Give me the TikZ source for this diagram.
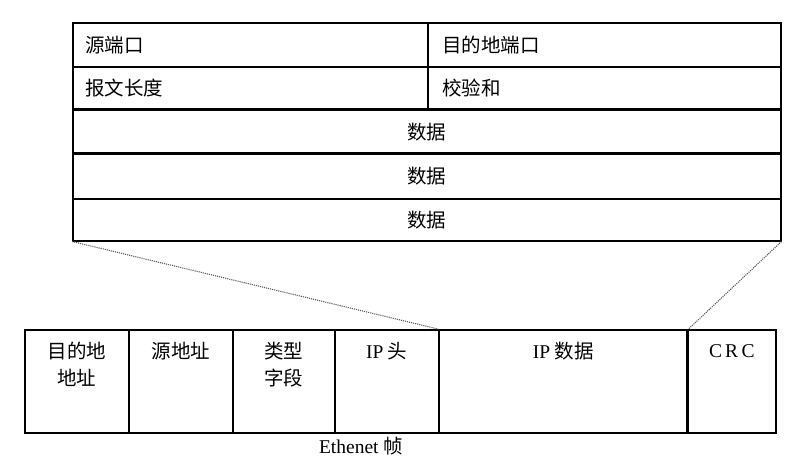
\documentclass[tikz,border=0pt]{standalone}
\usepackage{fontspec}
\setmainfont{Liberation Serif}
\newfontfamily\cjk{Noto Sans CJK SC}
\begin{document}
\begin{tikzpicture}[x=1pt,y=-1pt,
  cell/.style={draw, line width=1.5pt, rectangle, inner sep=0pt, anchor=north west},
  ltxt/.style={anchor=west, inner sep=0pt, font=\fontsize{19.5}{22}\selectfont\cjk},
  ctxt/.style={inner sep=0pt, font=\fontsize{19.5}{22}\selectfont\cjk},
  btxt/.style={anchor=north, inner sep=0pt, align=center, font=\fontsize{19.5}{27}\selectfont\cjk},
  thickline/.style={line width=2.6pt},
  zoomline/.style={densely dotted, line width=1.1pt, black!65}]
\useasboundingbox (0,0) rectangle (794,464);
% top table
\node[cell, minimum width=355pt, minimum height=44pt] (r1a) at (72,22) {};
\node[cell, minimum width=353pt, minimum height=44pt] (r1b) at (427,22) {};
\node[cell, minimum width=355pt, minimum height=43pt] (r2a) at (72,66) {};
\node[cell, minimum width=353pt, minimum height=43pt] (r2b) at (427,66) {};
\node[cell, minimum width=708pt, minimum height=44pt] (d1) at (72,109) {};
\node[cell, minimum width=708pt, minimum height=45pt] (d2) at (72,153) {};
\node[cell, minimum width=708pt, minimum height=42pt] (d3) at (72,198) {};
\draw[thickline] (d1.north west) -- (d1.north east);
\draw[thickline] (d2.north west) -- (d2.north east);
\node[ltxt] (t1) at ([xshift=13pt]r1a.west) {源端口};
\node[ltxt] (t2) at ([xshift=15pt]r1b.west) {目的地端口};
\node[ltxt] (t3) at ([xshift=13pt]r2a.west) {报文长度};
\node[ltxt] (t4) at ([xshift=15pt]r2b.west) {校验和};
\node[ctxt] (t5) at (d1.center) {数据};
\node[ctxt] (t6) at (d2.center) {数据};
\node[ctxt] (t7) at (d3.center) {数据};
% bottom frame
\node[cell, minimum width=104pt, minimum height=103pt] (e1) at (24,329) {};
\node[cell, minimum width=104pt, minimum height=103pt] (e2) at (128,329) {};
\node[cell, minimum width=102pt, minimum height=103pt] (e3) at (232,329) {};
\node[cell, minimum width=104pt, minimum height=103pt] (e4) at (334,329) {};
\node[cell, minimum width=249pt, minimum height=103pt] (e5) at (438,329) {};
\node[cell, minimum width=88pt, minimum height=103pt] (e6) at (687,329) {};
\draw[line width=3pt] (e6.north west) -- (e6.south west);
\node[btxt] (b1) at ([yshift=-13pt]e1.north) {目的地\\地址};
\node[btxt] (b2) at ([yshift=-13pt]e2.north) {源地址};
\node[btxt] (b3) at ([yshift=-13pt]e3.north) {类型\\字段};
\node[btxt] (b4) at ([yshift=-13pt]e4.north) {{\rmfamily IP} 头};
\node[btxt] (b5) at ([yshift=-13pt]e5.north) {{\rmfamily IP} 数据};
\node[btxt, font=\fontsize{19.5}{27}\selectfont\rmfamily] (b6) at ([yshift=-15pt]e6.north) {C\,R\,C};
\node[inner sep=0pt, font=\fontsize{19.5}{22}\selectfont] (cap) at (361,446) {Ethenet {\cjk 帧}};
% zoom lines
\draw[zoomline] (d3.south west) -- (e5.north west);
\draw[zoomline] (d3.south east) -- (e5.north east);
\end{tikzpicture}
\end{document}
